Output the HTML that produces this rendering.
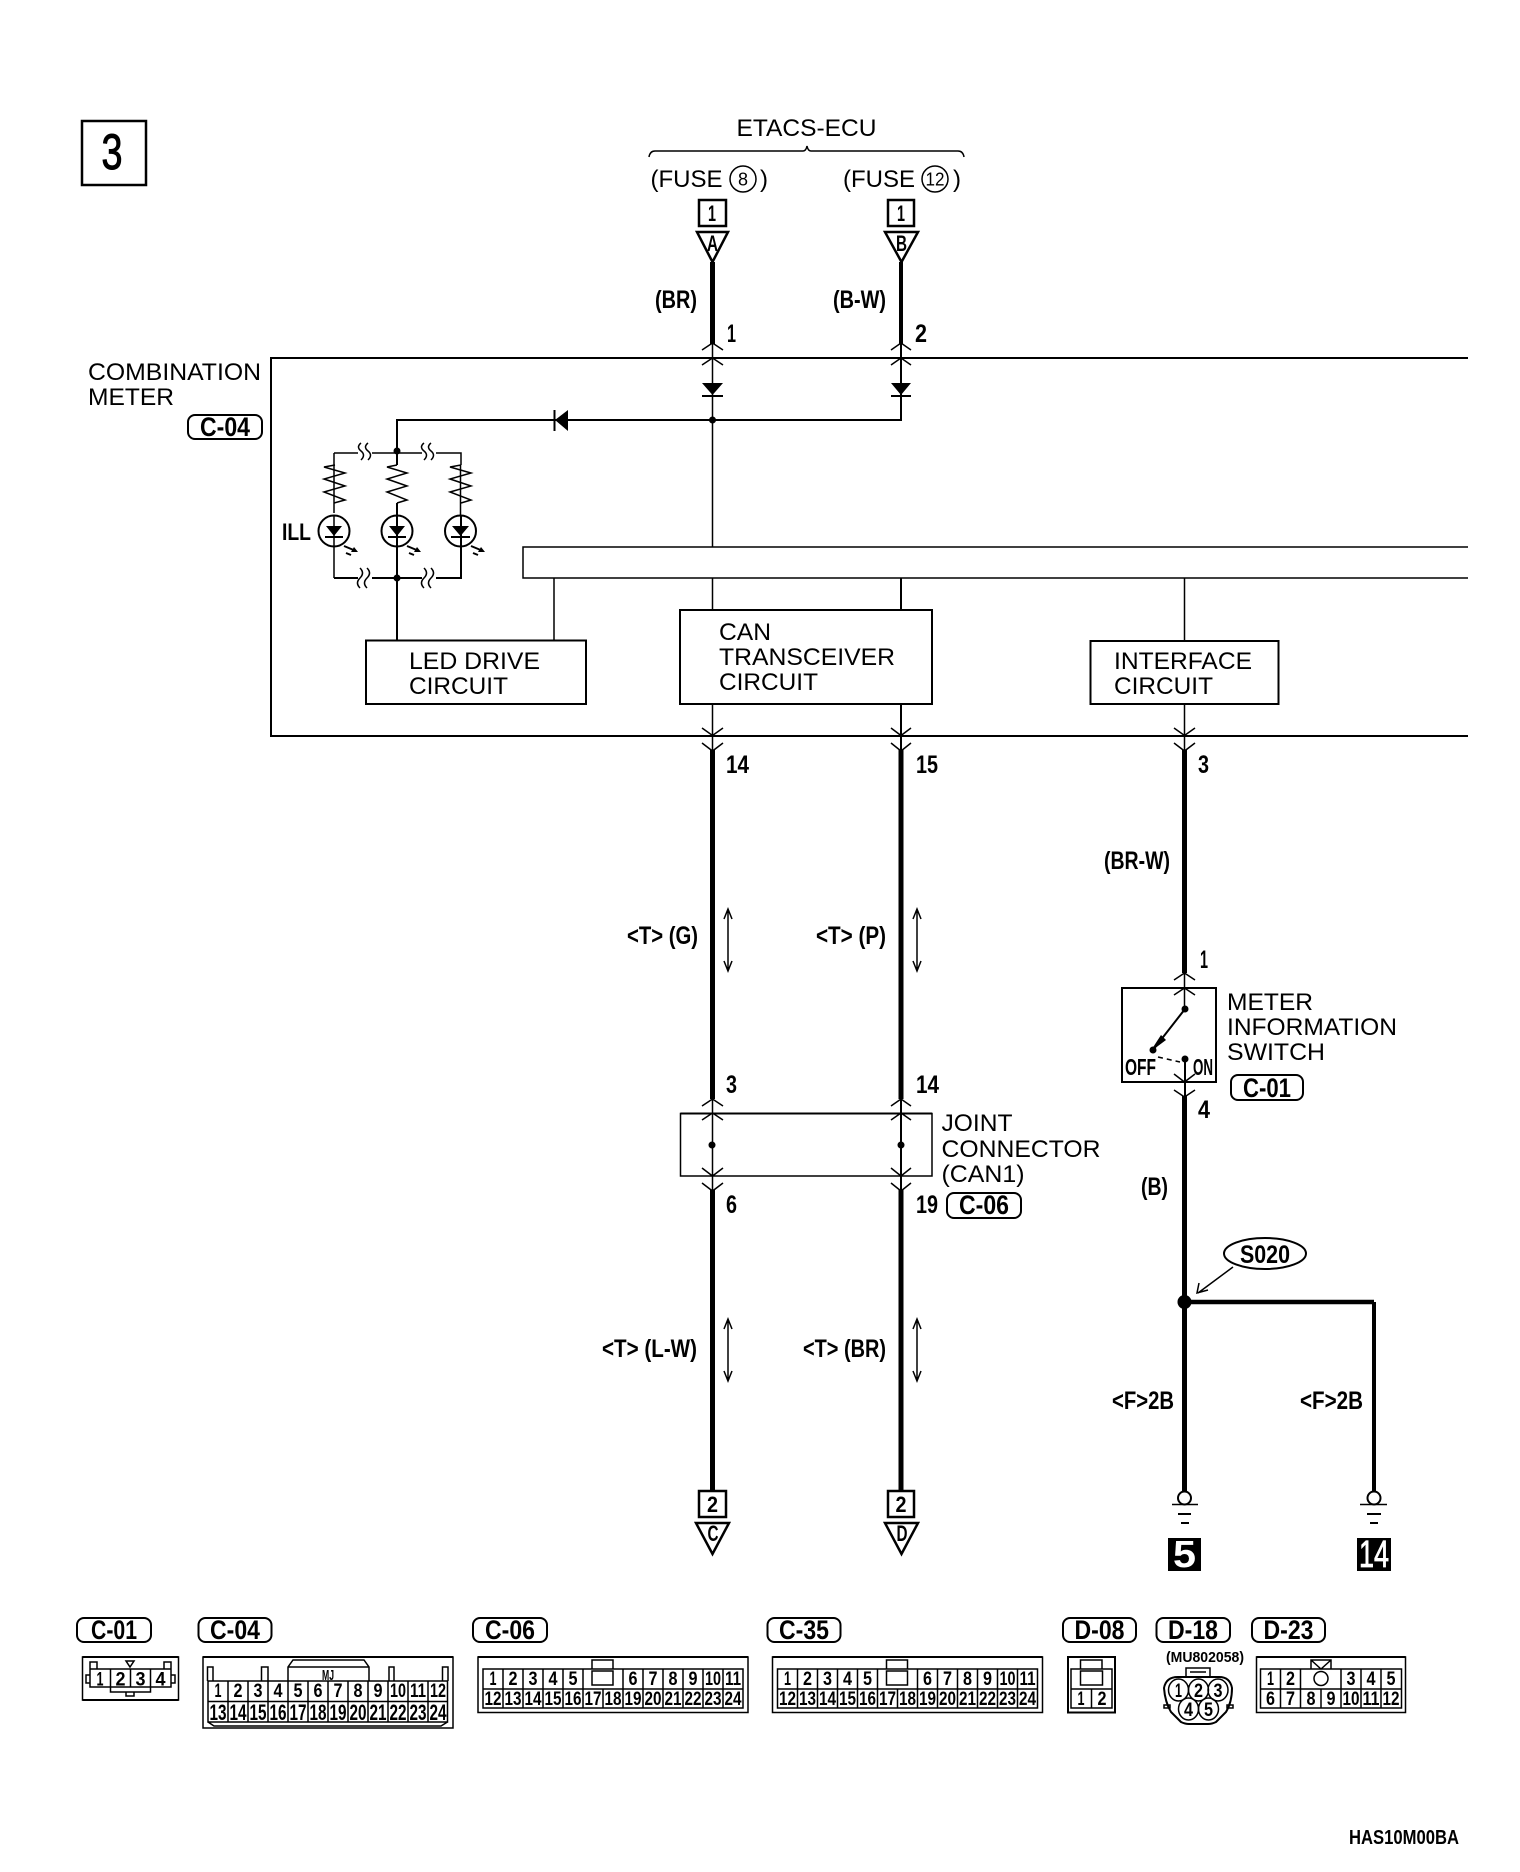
<!DOCTYPE html>
<html lang="en"><head><meta charset="utf-8"><title>Wiring diagram</title>
<style>
html,body{margin:0;padding:0;background:#fff}
svg{display:block}
text{font-family:"Liberation Sans",sans-serif;fill:#000}
.r{font-size:24px}
.b{font-size:25px;font-weight:bold}
.q{font-size:27px;font-weight:bold;text-anchor:middle}
.c{font-size:19px;font-weight:bold;text-anchor:middle}
.d{font-size:22px;font-weight:bold;text-anchor:middle}
.e{font-size:22px;font-weight:bold;text-anchor:middle}
.m{text-anchor:middle}
.l{fill:none;stroke:#000;stroke-width:1.5}
.t{fill:none;stroke:#000;stroke-width:2}
.v{fill:none;stroke:#000;stroke-width:2.5}
.h{fill:none;stroke:#000;stroke-width:5}
.p{fill:#fff;stroke:#000;stroke-width:2}
</style></head><body>
<svg xmlns="http://www.w3.org/2000/svg" width="1520" height="1872" viewBox="0 0 1520 1872">
<rect width="1520" height="1872" fill="#fff"/>

<!-- page number -->
<rect x="82" y="121" width="64" height="64" fill="none" stroke="#000" stroke-width="2.5"/>
<text x="112" y="169" class="m" font-size="50" stroke="#000" stroke-width="1" textLength="21" lengthAdjust="spacingAndGlyphs">3</text>

<!-- ETACS -->
<text x="806.5" y="136" class="r m" textLength="140" lengthAdjust="spacingAndGlyphs">ETACS-ECU</text>
<path class="l" d="M649 157 Q650 151 655 151 H803 Q806 151 807 146 Q808 151 811 151 H958 Q963 151 964 157"/>
<text x="650.5" y="187" class="r">(FUSE</text>
<circle cx="743" cy="179" r="13" class="l"/>
<text x="743" y="185.5" class="m" font-size="18">8</text>
<text x="760" y="187" class="r">)</text>
<text x="843" y="187" class="r">(FUSE</text>
<circle cx="935" cy="179" r="13" class="l"/>
<text x="935" y="185.5" class="m" font-size="18" textLength="19" lengthAdjust="spacingAndGlyphs">12</text>
<text x="953" y="187" class="r">)</text>

<!-- top connectors -->
<rect x="699" y="200" width="27" height="26" fill="none" stroke="#000" stroke-width="2.5"/>
<text x="712" y="221" class="e" textLength="8" lengthAdjust="spacingAndGlyphs">1</text>
<rect x="888" y="200" width="26" height="26" fill="none" stroke="#000" stroke-width="2.5"/>
<text x="901" y="221" class="e" textLength="8" lengthAdjust="spacingAndGlyphs">1</text>
<path class="v" d="M697 232 H728 L712.5 262 Z M885 232 H918 L901.5 262 Z"/>
<text x="712.5" y="251" class="e" textLength="11" lengthAdjust="spacingAndGlyphs">A</text>
<text x="901.5" y="251" class="e" textLength="11" lengthAdjust="spacingAndGlyphs">B</text>
<path class="h" d="M712.5 262 V344"/>
<path class="t" style="stroke-width:4" d="M901 262 V344"/>
<text x="655" y="308" class="b" textLength="42" lengthAdjust="spacingAndGlyphs">(BR)</text>
<text x="833" y="308" class="b" textLength="53" lengthAdjust="spacingAndGlyphs">(B-W)</text>
<text x="727" y="342" class="b" font-size="26" textLength="9" lengthAdjust="spacingAndGlyphs">1</text>
<text x="915" y="342" class="b" textLength="12" lengthAdjust="spacingAndGlyphs">2</text>

<!-- main box -->
<path class="t" d="M1468 358 H271 V736 H1468"/>
<path class="l" d="M1468 547 H523 V578 H1468"/>

<!-- chevrons upper -->
<path class="l" d="M702 350 L712.5 343 L723 350 M702 365 L712.5 358 L723 365 M891 350 L901 343 L911 350 M891 365 L901 358 L911 365"/>
<path class="l" d="M712.5 343 V547"/>
<path class="t" d="M901 343 V420 H397 V451"/>
<path d="M702 383 H723 L712.5 395 Z M891 383 H911 L901 395 Z"/>
<path class="t" d="M702 396 H723 M891 396 H911"/>
<circle cx="712.5" cy="420" r="3.5"/>
<path d="M555 420 L568 410 V431 Z"/>
<path class="t" d="M554.5 410 V431"/>

<!-- labels left -->
<text x="88" y="380" class="r" textLength="173" lengthAdjust="spacingAndGlyphs">COMBINATION</text>
<text x="88" y="405" class="r" textLength="86" lengthAdjust="spacingAndGlyphs">METER</text>
<rect x="188" y="415" width="74" height="24" rx="7" class="t"/>
<text x="225" y="436" class="q" textLength="50" lengthAdjust="spacingAndGlyphs">C-04</text>

<!-- ILL -->
<path class="l" d="M334 513 V465 M334 515 V578 M460.5 515 V465 M334 453 H461 V465 M334 453 V465"/>
<path class="l" d="M335 465 L324 467 L345 473 L324 479 L345 486 L324 492 L345 500 L334 503"/>
<path class="l" d="M397 465 L387 467 L407 473 L387 479 L407 486 L387 492 L407 500 L397 503"/>
<path class="l" d="M461 465 L450 467 L471 473 L450 479 L471 486 L450 492 L471 500 L461 503"/>
<path class="t" d="M397 451 V465 M397 503 V640"/>
<path class="t" d="M334 578 H461 V515"/>
<circle cx="334" cy="531" r="15.5" class="t"/><circle cx="397" cy="531" r="15.5" class="t"/><circle cx="460.5" cy="531" r="15.5" class="t"/>
<path d="M326 526 H342 L334 536 Z M389 526 H405 L397 536 Z M452 526 H469 L460.5 536 Z"/>
<path class="t" d="M325 537 H343 M388 537 H406 M451 537 H470"/>
<path class="t" d="M344 546 L356 551 M346 553 L351 555 M407 546 L419 551 M409 553 L414 555 M471 546 L483 551 M473 553 L478 555"/>
<path d="M358 552 L351 552 L354 547 Z M421 552 L414 552 L417 547 Z M485 552 L478 552 L481 547 Z"/>
<circle cx="397" cy="451" r="3.5"/><circle cx="397" cy="578" r="3.5"/>
<rect x="358" y="450" width="14" height="7" fill="#fff"/><rect x="422" y="450" width="14" height="7" fill="#fff"/>
<rect x="358" y="574" width="14" height="8" fill="#fff"/><rect x="422" y="574" width="14" height="8" fill="#fff"/>
<path class="l" d="M361 443 q-5 4 0 8 q5 4 0 9 M368 443 q-5 4 0 8 q5 4 0 9 M424 443 q-5 4 0 8 q5 4 0 9 M431 443 q-5 4 0 8 q5 4 0 9 M367 568 q5 5 0 10 q-5 5 0 10 M360 568 q5 5 0 10 q-5 5 0 10 M431 568 q5 5 0 10 q-5 5 0 10 M424 568 q5 5 0 10 q-5 5 0 10"/>
<text x="282" y="540" class="r" font-weight="bold" textLength="29" lengthAdjust="spacingAndGlyphs">ILL</text>

<!-- circuit boxes -->
<rect x="366" y="640.5" width="220" height="63.5" fill="none" stroke="#000" stroke-width="2"/>
<text x="409" y="669" class="r" textLength="131" lengthAdjust="spacingAndGlyphs">LED DRIVE</text>
<text x="409" y="694" class="r" textLength="99" lengthAdjust="spacingAndGlyphs">CIRCUIT</text>
<path class="l" d="M554 578 V640"/>
<rect x="680" y="610" width="252" height="94" fill="none" stroke="#000" stroke-width="2"/>
<text x="719" y="640" class="r" textLength="52" lengthAdjust="spacingAndGlyphs">CAN</text>
<text x="719" y="665" class="r" textLength="176" lengthAdjust="spacingAndGlyphs">TRANSCEIVER</text>
<text x="719" y="690" class="r" textLength="99" lengthAdjust="spacingAndGlyphs">CIRCUIT</text>
<rect x="1090.5" y="641" width="188" height="63" fill="none" stroke="#000" stroke-width="2"/>
<text x="1114" y="669" class="r" textLength="138" lengthAdjust="spacingAndGlyphs">INTERFACE</text>
<text x="1114" y="694" class="r" textLength="99" lengthAdjust="spacingAndGlyphs">CIRCUIT</text>
<path class="l" d="M712.5 578 V610 M712.5 704 V751 M1184.5 578 V641 M1184.5 704 V751"/>
<path class="t" d="M901 578 V610 M901 704 V751"/>
<path class="l" d="M702 728 L712.5 735.5 L723 728 M702 743 L712.5 751 L723 743 M891 728 L901 735.5 L911 728 M891 743 L901 751 L911 743 M1174 728 L1184.5 735.5 L1195 728 M1174 743 L1184.5 751 L1195 743"/>

<!-- long wires -->
<path class="h" d="M712.5 750 V1099 M901 750 V1099 M1184.5 750 V973 M712.5 1190 V1491 M901 1190 V1491 M1184.5 1096 V1492"/>
<path class="h" style="stroke-width:4.5" d="M1184.5 1302 H1374"/>
<path class="h" style="stroke-width:4" d="M1374 1302 V1492"/>
<text x="726" y="773" class="b" textLength="23" lengthAdjust="spacingAndGlyphs">14</text>
<text x="916" y="773" class="b" textLength="22" lengthAdjust="spacingAndGlyphs">15</text>
<text x="1198" y="773" class="b" textLength="11" lengthAdjust="spacingAndGlyphs">3</text>
<text x="1104" y="869" class="b" textLength="66" lengthAdjust="spacingAndGlyphs">(BR-W)</text>

<!-- T labels -->
<text x="627" y="944" class="b" textLength="71" lengthAdjust="spacingAndGlyphs">&lt;T&gt; (G)</text>
<text x="816" y="944" class="b" textLength="70" lengthAdjust="spacingAndGlyphs">&lt;T&gt; (P)</text>
<text x="602" y="1357" class="b" textLength="95" lengthAdjust="spacingAndGlyphs">&lt;T&gt; (L-W)</text>
<text x="803" y="1357" class="b" textLength="83" lengthAdjust="spacingAndGlyphs">&lt;T&gt; (BR)</text>
<path class="l" d="M728 909 V971 M724 919 L728 909 L732 919 M724 961 L728 971 L732 961 M917 909 V971 M913 919 L917 909 L921 919 M913 961 L917 971 L921 961 M728 1319 V1381 M724 1329 L728 1319 L732 1329 M724 1371 L728 1381 L732 1371 M917 1319 V1381 M913 1329 L917 1319 L921 1329 M913 1371 L917 1381 L921 1371"/>

<!-- joint connector -->
<rect x="680.5" y="1113.5" width="251.5" height="62.5" fill="none" stroke="#000" stroke-width="1.5"/>
<path class="t" d="M680.5 1113.5 H932"/>
<path class="l" d="M712.5 1099 V1191 M702 1106 L712.5 1099 L723 1106 M702 1120 L712.5 1113 L723 1120 M702 1168 L712.5 1176 L723 1168 M702 1183 L712.5 1191 L723 1183 M891 1106 L901 1099 L911 1106 M891 1120 L901 1113 L911 1120 M891 1168 L901 1176 L911 1168 M891 1183 L901 1191 L911 1183"/>
<path class="t" d="M901 1099 V1191"/>
<circle cx="712" cy="1145" r="3.5"/><circle cx="901" cy="1145" r="3.5"/>
<text x="726" y="1093" class="b" textLength="11" lengthAdjust="spacingAndGlyphs">3</text>
<text x="916" y="1093" class="b" textLength="23" lengthAdjust="spacingAndGlyphs">14</text>
<text x="726" y="1213" class="b" textLength="11" lengthAdjust="spacingAndGlyphs">6</text>
<text x="916" y="1213" class="b" textLength="22" lengthAdjust="spacingAndGlyphs">19</text>
<text x="941.5" y="1131" class="r" textLength="71" lengthAdjust="spacingAndGlyphs">JOINT</text>
<text x="941.5" y="1157" class="r" textLength="159" lengthAdjust="spacingAndGlyphs">CONNECTOR</text>
<text x="941.5" y="1182" class="r" textLength="83" lengthAdjust="spacingAndGlyphs">(CAN1)</text>
<rect x="947" y="1193" width="74" height="25" rx="7" class="t"/>
<text x="984" y="1214" class="q" textLength="50" lengthAdjust="spacingAndGlyphs">C-06</text>

<!-- switch -->
<text x="1200" y="968" class="b" textLength="8" lengthAdjust="spacingAndGlyphs">1</text>
<rect x="1122" y="988" width="94" height="94" fill="none" stroke="#000" stroke-width="2"/>
<path class="l" d="M1184.5 973 V1009 M1174 980 L1184.5 973 L1195 980 M1174 995 L1184.5 988 L1195 995 M1174 1074 L1184.5 1082 L1195 1074 M1174 1090 L1184.5 1097 L1195 1090"/>
<path class="t" d="M1185 1009 L1153 1050 M1185 1059 V1097"/>
<path d="M1150 1052 L1161 1035 L1166 1040 Z"/>
<circle cx="1185" cy="1009" r="3.5"/><circle cx="1153" cy="1050" r="3.5"/><circle cx="1185" cy="1059" r="3.5"/>
<path class="l" stroke-dasharray="5 4" d="M1158 1057 L1180 1062"/>
<text x="1125" y="1075" font-size="23" font-weight="bold" textLength="31" lengthAdjust="spacingAndGlyphs">OFF</text>
<text x="1193" y="1075" font-size="23" font-weight="bold" textLength="20" lengthAdjust="spacingAndGlyphs">ON</text>
<text x="1227" y="1010" class="r" textLength="86" lengthAdjust="spacingAndGlyphs">METER</text>
<text x="1227" y="1035" class="r" textLength="170" lengthAdjust="spacingAndGlyphs">INFORMATION</text>
<text x="1227" y="1060" class="r" textLength="98" lengthAdjust="spacingAndGlyphs">SWITCH</text>
<rect x="1231" y="1075" width="72" height="25" rx="7" class="t"/>
<text x="1267" y="1097" class="q" textLength="48" lengthAdjust="spacingAndGlyphs">C-01</text>
<text x="1198" y="1118" class="b" textLength="12" lengthAdjust="spacingAndGlyphs">4</text>
<text x="1141" y="1195" class="b" textLength="27" lengthAdjust="spacingAndGlyphs">(B)</text>

<!-- S020 -->
<ellipse cx="1265" cy="1253.5" rx="41" ry="15.5" class="t"/>
<text x="1265" y="1263" class="b m" textLength="50" lengthAdjust="spacingAndGlyphs">S020</text>
<path class="l" d="M1233 1267 L1198 1293 M1199 1283 L1197 1293 L1208 1290"/>
<circle cx="1184.5" cy="1302" r="7"/>
<text x="1112" y="1409" class="b" textLength="62" lengthAdjust="spacingAndGlyphs">&lt;F&gt;2B</text>
<text x="1300" y="1409" class="b" textLength="63" lengthAdjust="spacingAndGlyphs">&lt;F&gt;2B</text>

<!-- bottom connectors -->
<rect x="699" y="1491" width="27" height="26" fill="#fff" stroke="#000" stroke-width="2.5"/>
<text x="712.5" y="1512" class="e" textLength="11" lengthAdjust="spacingAndGlyphs">2</text>
<rect x="888" y="1491" width="26" height="26" fill="#fff" stroke="#000" stroke-width="2.5"/>
<text x="901" y="1512" class="e" textLength="11" lengthAdjust="spacingAndGlyphs">2</text>
<path class="v" d="M696 1523 H729 L712.5 1554 Z M885 1523 H918 L901.5 1554 Z"/>
<text x="713" y="1541" class="e" textLength="11" lengthAdjust="spacingAndGlyphs">C</text>
<text x="902" y="1541" class="e" textLength="11" lengthAdjust="spacingAndGlyphs">D</text>

<!-- grounds -->
<circle cx="1184.5" cy="1498" r="6.5" class="p"/><circle cx="1374" cy="1498" r="6.5" class="p"/>
<path class="l" d="M1172 1504.5 H1198 M1360 1504.5 H1387"/>
<path class="t" d="M1178 1514 H1191 M1367 1514 H1381 M1181 1523 H1189 M1370 1523 H1378"/>
<rect x="1168" y="1538" width="33" height="33"/>
<rect x="1357" y="1538" width="34" height="33"/>
<text x="1184.5" y="1567" class="m" font-size="38" font-weight="bold" style="fill:#fff" textLength="23" lengthAdjust="spacingAndGlyphs">5</text>
<text x="1374" y="1567" class="m" font-size="38" style="fill:#fff" stroke="#fff" stroke-width="0.8" textLength="30" lengthAdjust="spacingAndGlyphs">14</text>

<!-- connector name pills -->
<g class="t">
<rect x="77" y="1618" width="74" height="24" rx="7" class="t"/>
<rect x="198.5" y="1618" width="73" height="24" rx="7" class="t"/>
<rect x="473" y="1618" width="74" height="24" rx="7" class="t"/>
<rect x="767.5" y="1618" width="73" height="24" rx="7" class="t"/>
<rect x="1063" y="1618" width="73" height="24" rx="7" class="t"/>
<rect x="1156.5" y="1618" width="73.5" height="24" rx="7" class="t"/>
<rect x="1252" y="1618" width="73" height="24" rx="7" class="t"/>
</g>
<text x="114" y="1639" class="q" textLength="46" lengthAdjust="spacingAndGlyphs">C-01</text>
<text x="235" y="1639" class="q" textLength="50" lengthAdjust="spacingAndGlyphs">C-04</text>
<text x="510" y="1639" class="q" textLength="50" lengthAdjust="spacingAndGlyphs">C-06</text>
<text x="804" y="1639" class="q" textLength="50" lengthAdjust="spacingAndGlyphs">C-35</text>
<text x="1099.5" y="1639" class="q" textLength="50" lengthAdjust="spacingAndGlyphs">D-08</text>
<text x="1193" y="1639" class="q" textLength="50" lengthAdjust="spacingAndGlyphs">D-18</text>
<text x="1288.5" y="1639" class="q" textLength="50" lengthAdjust="spacingAndGlyphs">D-23</text>

<!-- C-01 connector -->
<rect x="82.5" y="1657" width="96" height="43" fill="none" stroke="#000" stroke-width="1.5"/>
<path class="t" d="M82.5 1657 H178.5 M82.5 1700 H178.5"/>
<path class="l" d="M90 1669 H171 V1687 H90 Z M110.5 1669 V1687 M130.5 1669 V1687 M150.5 1669 V1687 M90 1669 V1662 H97 V1669 M164 1669 V1662 H171 V1669 M90 1675 H86 V1683 H90 M171 1675 H175 V1683 H171 M110.5 1687 V1692 H150.5 V1687 M126 1692 V1696 H134 V1692 M126 1661 H134 L130 1667 Z"/>
<text x="100" y="1685.5" class="c" textLength="7" lengthAdjust="spacingAndGlyphs">1</text>
<text x="120.5" y="1685.5" class="c" textLength="10" lengthAdjust="spacingAndGlyphs">2</text>
<text x="140.5" y="1685.5" class="c" textLength="10" lengthAdjust="spacingAndGlyphs">3</text>
<text x="160.5" y="1685.5" class="c" textLength="10" lengthAdjust="spacingAndGlyphs">4</text>

<!-- C-04 connector -->
<rect x="203" y="1657" width="250" height="71" fill="none" stroke="#000" stroke-width="1.5"/>
<path class="t" d="M203 1657 H453"/>
<path class="l" d="M208 1681 H447.5 V1722 H208 Z M208 1701.5 H447.5 M228 1681 V1722 M248 1681 V1722 M268 1681 V1722 M288 1681 V1722 M308 1681 V1722 M328 1681 V1722 M348 1681 V1722 M368 1681 V1722 M388 1681 V1722 M408 1681 V1722 M428 1681 V1722 M207.5 1681 V1667 H213 V1681 M261.5 1681 V1667 H268 V1681 M389 1681 V1667 H394 V1681 M442.5 1681 V1667 H448 V1681 M288 1681 V1667 L293 1660 H364 L369 1667 V1681 M288 1667 H369 M208 1722 L214 1726 H441 L447.5 1722"/>
<text x="328" y="1680" class="m" font-size="15" font-weight="bold" textLength="12" lengthAdjust="spacingAndGlyphs">MJ</text>
<text x="218" y="1697" class="c" textLength="7" lengthAdjust="spacingAndGlyphs">1</text><text x="238" y="1697" class="c" textLength="9" lengthAdjust="spacingAndGlyphs">2</text><text x="258" y="1697" class="c" textLength="9" lengthAdjust="spacingAndGlyphs">3</text><text x="278" y="1697" class="c" textLength="9" lengthAdjust="spacingAndGlyphs">4</text><text x="298" y="1697" class="c" textLength="9" lengthAdjust="spacingAndGlyphs">5</text><text x="318" y="1697" class="c" textLength="9" lengthAdjust="spacingAndGlyphs">6</text><text x="338" y="1697" class="c" textLength="9" lengthAdjust="spacingAndGlyphs">7</text><text x="358" y="1697" class="c" textLength="9" lengthAdjust="spacingAndGlyphs">8</text><text x="378" y="1697" class="c" textLength="9" lengthAdjust="spacingAndGlyphs">9</text><text x="398" y="1697" class="c" textLength="16" lengthAdjust="spacingAndGlyphs">10</text><text x="418" y="1697" class="c" textLength="16" lengthAdjust="spacingAndGlyphs">11</text><text x="438" y="1697" class="c" textLength="16" lengthAdjust="spacingAndGlyphs">12</text>
<text x="218" y="1720" class="d" textLength="17" lengthAdjust="spacingAndGlyphs">13</text><text x="238" y="1720" class="d" textLength="17" lengthAdjust="spacingAndGlyphs">14</text><text x="258" y="1720" class="d" textLength="17" lengthAdjust="spacingAndGlyphs">15</text><text x="278" y="1720" class="d" textLength="17" lengthAdjust="spacingAndGlyphs">16</text><text x="298" y="1720" class="d" textLength="17" lengthAdjust="spacingAndGlyphs">17</text><text x="318" y="1720" class="d" textLength="17" lengthAdjust="spacingAndGlyphs">18</text><text x="338" y="1720" class="d" textLength="17" lengthAdjust="spacingAndGlyphs">19</text><text x="358" y="1720" class="d" textLength="17" lengthAdjust="spacingAndGlyphs">20</text><text x="378" y="1720" class="d" textLength="17" lengthAdjust="spacingAndGlyphs">21</text><text x="398" y="1720" class="d" textLength="17" lengthAdjust="spacingAndGlyphs">22</text><text x="418" y="1720" class="d" textLength="17" lengthAdjust="spacingAndGlyphs">23</text><text x="438" y="1720" class="d" textLength="17" lengthAdjust="spacingAndGlyphs">24</text>

<!-- C-06 connector -->
<g>
<rect x="478" y="1657" width="270" height="55.5" fill="none" stroke="#000" stroke-width="1.5"/>
<path class="t" d="M478 1657 H748"/>
<path class="l" d="M483 1669 H743 V1708 H483 Z M483 1689 H743 M503 1669 V1708 M523 1669 V1708 M543 1669 V1708 M563 1669 V1708 M583 1669 V1708 M603 1689 V1708 M623 1669 V1708 M643 1669 V1708 M663 1669 V1708 M683 1669 V1708 M703 1669 V1708 M723 1669 V1708"/>
<rect x="592" y="1671" width="21" height="14" fill="none" stroke="#000" stroke-width="1.5"/>
<path class="l" d="M592 1669 V1660 H613 V1669"/>
<text x="493" y="1685" class="c" textLength="7" lengthAdjust="spacingAndGlyphs">1</text><text x="513" y="1685" class="c" textLength="9" lengthAdjust="spacingAndGlyphs">2</text><text x="533" y="1685" class="c" textLength="9" lengthAdjust="spacingAndGlyphs">3</text><text x="553" y="1685" class="c" textLength="9" lengthAdjust="spacingAndGlyphs">4</text><text x="573" y="1685" class="c" textLength="9" lengthAdjust="spacingAndGlyphs">5</text>
<text x="633" y="1685" class="c" textLength="9" lengthAdjust="spacingAndGlyphs">6</text><text x="653" y="1685" class="c" textLength="9" lengthAdjust="spacingAndGlyphs">7</text><text x="673" y="1685" class="c" textLength="9" lengthAdjust="spacingAndGlyphs">8</text><text x="693" y="1685" class="c" textLength="9" lengthAdjust="spacingAndGlyphs">9</text><text x="713" y="1685" class="c" textLength="16" lengthAdjust="spacingAndGlyphs">10</text><text x="733" y="1685" class="c" textLength="16" lengthAdjust="spacingAndGlyphs">11</text>
<text x="493" y="1705" class="c" textLength="17" lengthAdjust="spacingAndGlyphs">12</text><text x="513" y="1705" class="c" textLength="17" lengthAdjust="spacingAndGlyphs">13</text><text x="533" y="1705" class="c" textLength="17" lengthAdjust="spacingAndGlyphs">14</text><text x="553" y="1705" class="c" textLength="17" lengthAdjust="spacingAndGlyphs">15</text><text x="573" y="1705" class="c" textLength="17" lengthAdjust="spacingAndGlyphs">16</text><text x="593" y="1705" class="c" textLength="17" lengthAdjust="spacingAndGlyphs">17</text><text x="613" y="1705" class="c" textLength="17" lengthAdjust="spacingAndGlyphs">18</text><text x="633" y="1705" class="c" textLength="17" lengthAdjust="spacingAndGlyphs">19</text><text x="653" y="1705" class="c" textLength="17" lengthAdjust="spacingAndGlyphs">20</text><text x="673" y="1705" class="c" textLength="17" lengthAdjust="spacingAndGlyphs">21</text><text x="693" y="1705" class="c" textLength="17" lengthAdjust="spacingAndGlyphs">22</text><text x="713" y="1705" class="c" textLength="17" lengthAdjust="spacingAndGlyphs">23</text><text x="733" y="1705" class="c" textLength="17" lengthAdjust="spacingAndGlyphs">24</text>
</g>

<!-- C-35 connector -->
<g transform="translate(294.5 0)">
<rect x="478" y="1657" width="270" height="55.5" fill="none" stroke="#000" stroke-width="1.5"/>
<path class="t" d="M478 1657 H748"/>
<path class="l" d="M483 1669 H743 V1708 H483 Z M483 1689 H743 M503 1669 V1708 M523 1669 V1708 M543 1669 V1708 M563 1669 V1708 M583 1669 V1708 M603 1689 V1708 M623 1669 V1708 M643 1669 V1708 M663 1669 V1708 M683 1669 V1708 M703 1669 V1708 M723 1669 V1708"/>
<rect x="592" y="1671" width="21" height="14" fill="none" stroke="#000" stroke-width="1.5"/>
<path class="l" d="M592 1669 V1660 H613 V1669"/>
<text x="493" y="1685" class="c" textLength="7" lengthAdjust="spacingAndGlyphs">1</text><text x="513" y="1685" class="c" textLength="9" lengthAdjust="spacingAndGlyphs">2</text><text x="533" y="1685" class="c" textLength="9" lengthAdjust="spacingAndGlyphs">3</text><text x="553" y="1685" class="c" textLength="9" lengthAdjust="spacingAndGlyphs">4</text><text x="573" y="1685" class="c" textLength="9" lengthAdjust="spacingAndGlyphs">5</text>
<text x="633" y="1685" class="c" textLength="9" lengthAdjust="spacingAndGlyphs">6</text><text x="653" y="1685" class="c" textLength="9" lengthAdjust="spacingAndGlyphs">7</text><text x="673" y="1685" class="c" textLength="9" lengthAdjust="spacingAndGlyphs">8</text><text x="693" y="1685" class="c" textLength="9" lengthAdjust="spacingAndGlyphs">9</text><text x="713" y="1685" class="c" textLength="16" lengthAdjust="spacingAndGlyphs">10</text><text x="733" y="1685" class="c" textLength="16" lengthAdjust="spacingAndGlyphs">11</text>
<text x="493" y="1705" class="c" textLength="17" lengthAdjust="spacingAndGlyphs">12</text><text x="513" y="1705" class="c" textLength="17" lengthAdjust="spacingAndGlyphs">13</text><text x="533" y="1705" class="c" textLength="17" lengthAdjust="spacingAndGlyphs">14</text><text x="553" y="1705" class="c" textLength="17" lengthAdjust="spacingAndGlyphs">15</text><text x="573" y="1705" class="c" textLength="17" lengthAdjust="spacingAndGlyphs">16</text><text x="593" y="1705" class="c" textLength="17" lengthAdjust="spacingAndGlyphs">17</text><text x="613" y="1705" class="c" textLength="17" lengthAdjust="spacingAndGlyphs">18</text><text x="633" y="1705" class="c" textLength="17" lengthAdjust="spacingAndGlyphs">19</text><text x="653" y="1705" class="c" textLength="17" lengthAdjust="spacingAndGlyphs">20</text><text x="673" y="1705" class="c" textLength="17" lengthAdjust="spacingAndGlyphs">21</text><text x="693" y="1705" class="c" textLength="17" lengthAdjust="spacingAndGlyphs">22</text><text x="713" y="1705" class="c" textLength="17" lengthAdjust="spacingAndGlyphs">23</text><text x="733" y="1705" class="c" textLength="17" lengthAdjust="spacingAndGlyphs">24</text>
</g>

<!-- D-08 -->
<rect x="1068" y="1657" width="47" height="55.5" fill="none" stroke="#000" stroke-width="2"/>
<path class="l" d="M1071 1669 H1112 V1708 H1071 Z M1071 1689 H1112 M1091.5 1689 V1708 M1080.5 1669 V1660 H1102 V1669"/>
<rect x="1080.5" y="1671" width="22" height="14" fill="none" stroke="#000" stroke-width="1.5"/>
<text x="1081" y="1705" class="c" textLength="7" lengthAdjust="spacingAndGlyphs">1</text>
<text x="1102" y="1705" class="c" textLength="9" lengthAdjust="spacingAndGlyphs">2</text>

<!-- D-18 -->
<text x="1166" y="1662" font-size="15" font-weight="bold" textLength="78" lengthAdjust="spacingAndGlyphs">(MU802058)</text>
<path class="l" d="M1186 1677 V1668 H1210 V1677 M1190 1672 H1206 M1164 1705 H1170 V1708 H1164 Z M1227 1705 H1233 V1708 H1227 Z"/>
<path class="t" d="M1178 1677 H1219 Q1230 1677 1232 1688 Q1232 1702 1226 1712 L1216 1722 Q1212 1724 1208 1724 H1189 Q1185 1724 1181 1722 L1171 1712 Q1165 1702 1164 1688 Q1166 1677 1178 1677 Z"/>
<ellipse cx="1178.5" cy="1690" rx="10" ry="11" class="l"/><ellipse cx="1198.5" cy="1690" rx="10" ry="11" class="l"/><ellipse cx="1218" cy="1690" rx="10" ry="11" class="l"/><ellipse cx="1188.5" cy="1709" rx="10" ry="11" class="l"/><ellipse cx="1208.5" cy="1709" rx="10" ry="11" class="l"/>
<text x="1178.5" y="1697" class="c" textLength="7" lengthAdjust="spacingAndGlyphs">1</text>
<text x="1198.5" y="1697" class="c" textLength="9" lengthAdjust="spacingAndGlyphs">2</text>
<text x="1218" y="1697" class="c" textLength="9" lengthAdjust="spacingAndGlyphs">3</text>
<text x="1188.5" y="1716" class="c" textLength="9" lengthAdjust="spacingAndGlyphs">4</text>
<text x="1208.5" y="1716" class="c" textLength="9" lengthAdjust="spacingAndGlyphs">5</text>

<!-- D-23 -->
<rect x="1256.5" y="1657" width="149" height="55.5" fill="none" stroke="#000" stroke-width="1.5"/>
<path class="t" d="M1256.5 1657 H1405.5"/>
<path class="l" d="M1260.5 1669 H1401.5 V1708 H1260.5 Z M1260.5 1689 H1401.5 M1280.5 1669 V1708 M1300.5 1669 V1708 M1321 1689 V1708 M1341 1669 V1708 M1361 1669 V1708 M1381 1669 V1708 M1311 1669 V1660 H1331 V1669 M1311 1660 L1321 1669 L1331 1660 M1311 1660 H1331"/>
<circle cx="1321" cy="1678.5" r="7" class="l"/>
<text x="1270.5" y="1685" class="c" textLength="7" lengthAdjust="spacingAndGlyphs">1</text><text x="1290.5" y="1685" class="c" textLength="9" lengthAdjust="spacingAndGlyphs">2</text><text x="1351" y="1685" class="c" textLength="9" lengthAdjust="spacingAndGlyphs">3</text><text x="1371" y="1685" class="c" textLength="9" lengthAdjust="spacingAndGlyphs">4</text><text x="1391" y="1685" class="c" textLength="9" lengthAdjust="spacingAndGlyphs">5</text>
<text x="1270.5" y="1705" class="c" textLength="9" lengthAdjust="spacingAndGlyphs">6</text><text x="1290.5" y="1705" class="c" textLength="9" lengthAdjust="spacingAndGlyphs">7</text><text x="1311" y="1705" class="c" textLength="9" lengthAdjust="spacingAndGlyphs">8</text><text x="1331" y="1705" class="c" textLength="9" lengthAdjust="spacingAndGlyphs">9</text><text x="1351" y="1705" class="c" textLength="17" lengthAdjust="spacingAndGlyphs">10</text><text x="1371" y="1705" class="c" textLength="17" lengthAdjust="spacingAndGlyphs">11</text><text x="1391" y="1705" class="c" textLength="17" lengthAdjust="spacingAndGlyphs">12</text>

<!-- code -->
<text x="1349" y="1844" font-size="20" font-weight="bold" textLength="110" lengthAdjust="spacingAndGlyphs">HAS10M00BA</text>
</svg>
</body></html>
